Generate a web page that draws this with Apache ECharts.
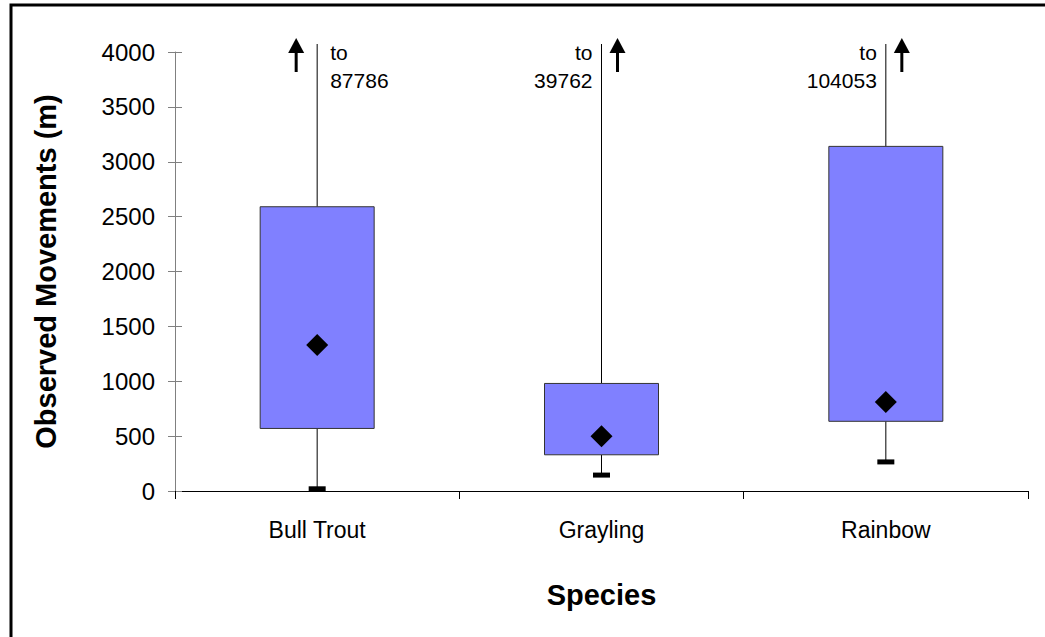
<!DOCTYPE html>
<html>
<head>
<meta charset="utf-8">
<script src="https://cdn.jsdelivr.net/npm/echarts@6/dist/echarts.min.js"></script>
<style>
html,body{margin:0;padding:0;background:#fff;}
#chart{width:1045px;height:637px;}
</style>
</head>
<body>
<div id="chart"></div>
<script>
// ---- data ----
const categories = ['Bull Trout', 'Grayling', 'Rainbow'];
const lowerWhisker = [20, 145, 265];
const q1 = [570, 330, 635];
const q3 = [2590, 980, 3140];
const mean = [1330, 500, 810];
const maxMove = [87786, 39762, 104053];
const yMin = 0, yMax = 4000, yStep = 500;
const xTitle = 'Species';
const yTitle = 'Observed Movements (m)';

const FONT = '"Liberation Sans", Arial, sans-serif';

function renderBox(params, api) {
  const i = api.value(0);
  const x = api.coord([i, 0])[0];
  const yLow = api.coord([i, lowerWhisker[i]])[1];
  const yQ1 = api.coord([i, q1[i]])[1];
  const yQ3 = api.coord([i, q3[i]])[1];
  const yMean = api.coord([i, mean[i]])[1];
  const yAxisTop = api.coord([i, yMax])[1];
  const yHigh = maxMove[i] > yMax ? yAxisTop - 8 : api.coord([i, maxMove[i]])[1];
  const hw = 57;
  const children = [
    {type: 'line', shape: {x1: x, y1: yLow, x2: x, y2: yQ1}, style: {stroke: '#000', lineWidth: 1}},
    {type: 'line', shape: {x1: x, y1: yQ3, x2: x, y2: yHigh}, style: {stroke: '#000', lineWidth: 1}},
    {type: 'rect', shape: {x: x - hw, y: yQ3, width: hw * 2, height: yQ1 - yQ3},
      style: {fill: '#8080FF', stroke: '#333', lineWidth: 1}},
    {type: 'rect', shape: {x: x - 8.5, y: yLow - 2.5, width: 17, height: 5}, style: {fill: '#000'}},
    {type: 'polygon', shape: {points: [[x, yMean - 11], [x + 11, yMean], [x, yMean + 11], [x - 11, yMean]]},
      style: {fill: '#000'}}
  ];
  if (maxMove[i] > yMax) {
    const left = i === 0;
    const ax = left ? x - 21 : x + 16;
    children.push(
      {type: 'line', shape: {x1: ax, y1: yAxisTop + 20, x2: ax, y2: yAxisTop - 2}, style: {stroke: '#000', lineWidth: 3}},
      {type: 'polygon', shape: {points: [[ax, yAxisTop - 14], [ax + 8, yAxisTop + 1], [ax - 8, yAxisTop + 1]]}, style: {fill: '#000'}},
      {type: 'text', x: left ? x + 13 : x - 9, y: yAxisTop + 14,
        style: {text: 'to\n' + maxMove[i], fill: '#000', font: '21px ' + FONT,
          align: left ? 'left' : 'right', verticalAlign: 'middle', lineHeight: 28}}
    );
  }
  return {type: 'group', children};
}

const chart = echarts.init(document.getElementById('chart'), null, {renderer: 'svg'});
chart.setOption({
  animation: false,
  backgroundColor: '#fff',
  grid: {left: 175, right: 17, top: 52, bottom: 146, containLabel: false},
  graphic: [
    {type: 'polyline', shape: {points: [[11, 637], [11, 5], [1045, 5]]}, style: {stroke: '#000', lineWidth: 3, fill: null}}
  ],
  xAxis: {
    type: 'category',
    data: categories,
    boundaryGap: true,
    name: xTitle,
    nameLocation: 'middle',
    nameGap: 104,
    nameTextStyle: {fontFamily: FONT, fontSize: 29, fontWeight: 'bold', color: '#000', verticalAlign: 'middle'},
    axisLine: {lineStyle: {color: '#000', width: 1}},
    axisTick: {show: true, length: 8, lineStyle: {color: '#000'}},
    axisLabel: {fontFamily: FONT, fontSize: 23, color: '#000', margin: 27}
  },
  yAxis: [{
    type: 'value',
    min: yMin, max: yMax, interval: yStep,
    name: yTitle,
    nameLocation: 'middle',
    nameGap: 129,
    nameRotate: 90,
    nameTextStyle: {fontFamily: FONT, fontSize: 29, fontWeight: 'bold', color: '#000', verticalAlign: 'middle'},
    axisLine: {show: true, lineStyle: {color: '#808080', width: 1}},
    axisTick: {show: true, length: 7, lineStyle: {color: '#808080'}},
    axisLabel: {fontFamily: FONT, fontSize: 24, color: '#000', margin: 20, formatter: v => String(v)},
    splitLine: {show: false}
  }, {
    type: 'value',
    min: yMin, max: yMax, interval: yStep,
    position: 'left',
    axisLine: {show: false},
    axisTick: {show: true, inside: true, length: 7, lineStyle: {color: '#808080'}},
    axisLabel: {show: false},
    splitLine: {show: false}
  }],
  series: [{
    type: 'custom',
    renderItem: renderBox,
    data: categories.map((c, i) => [i]),
    encode: {x: 0},
    clip: false,
    z: 5
  }]
});
</script>
</body>
</html>
